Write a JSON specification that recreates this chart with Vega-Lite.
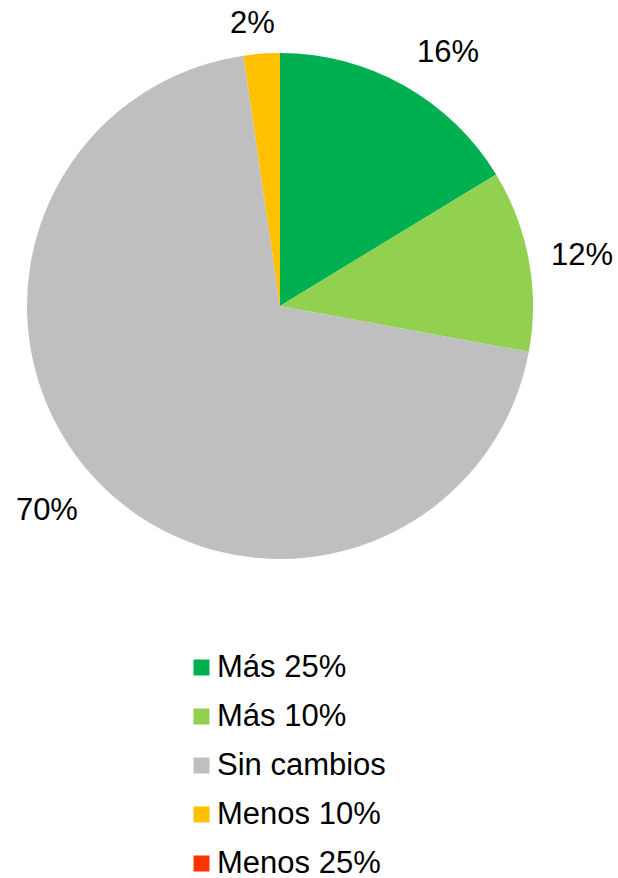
{
  "$schema": "https://vega.github.io/schema/vega-lite/v6.json",
  "width": 560,
  "height": 560,
  "autosize": "none",
  "padding": {"left": 0, "top": 26, "right": 58, "bottom": 292},
  "background": "white",
  "config": {"view": {"stroke": null}, "font": "Liberation Sans"},
  "data": {"values": [
    {"idx": 1, "cat": "Más 25%", "value": 0.163},
    {"idx": 2, "cat": "Más 10%", "value": 0.116},
    {"idx": 3, "cat": "Sin cambios", "value": 0.698},
    {"idx": 4, "cat": "Menos 10%", "value": 0.023},
    {"idx": 5, "cat": "Menos 25%", "value": 0.0}
  ]},
  "encoding": {
    "theta": {"field": "value", "type": "quantitative", "stack": true},
    "order": {"field": "idx", "type": "quantitative"}
  },
  "layer": [
    {
      "mark": {"type": "arc", "outerRadius": 253},
      "encoding": {
        "color": {
          "field": "cat", "type": "nominal",
          "sort": ["Más 25%", "Más 10%", "Sin cambios", "Menos 10%", "Menos 25%"],
          "scale": {
            "domain": ["Más 25%", "Más 10%", "Sin cambios", "Menos 10%", "Menos 25%"],
            "range": ["#00B050", "#92D050", "#BFBFBF", "#FFC000", "#FF3300"]
          },
          "legend": {
            "title": null,
            "orient": "none",
            "legendX": 186,
            "legendY": 626,
            "padding": 0,
            "symbolType": "square",
            "symbolSize": 256,
            "symbolStrokeWidth": 0,
            "symbolOpacity": 1,
            "labelFont": "Liberation Sans",
            "labelFontSize": 31,
            "labelColor": "black",
            "labelOffset": 0,
            "labelLimit": 300,
            "rowPadding": 17
          }
        }
      }
    },
    {
      "mark": {"type": "text", "radius": 300, "fontSize": 31, "font": "Liberation Sans", "color": "black", "dx": 21, "dy": 9},
      "encoding": {
        "text": {"condition": {"test": "datum.cat == 'Más 25%'", "field": "value", "type": "quantitative", "format": ".0%"}, "value": ""}
      }
    },
    {
      "mark": {"type": "text", "radius": 300, "fontSize": 31, "font": "Liberation Sans", "color": "black", "dx": 7, "dy": 4},
      "encoding": {
        "text": {"condition": {"test": "datum.cat == 'Más 10%'", "field": "value", "type": "quantitative", "format": ".0%"}, "value": ""}
      }
    },
    {
      "mark": {"type": "text", "radius": 300, "fontSize": 31, "font": "Liberation Sans", "color": "black", "dx": -17, "dy": -3},
      "encoding": {
        "text": {"condition": {"test": "datum.cat == 'Sin cambios'", "field": "value", "type": "quantitative", "format": ".0%"}, "value": ""}
      }
    },
    {
      "mark": {"type": "text", "radius": 300, "fontSize": 31, "font": "Liberation Sans", "color": "black", "dx": -6, "dy": 17},
      "encoding": {
        "text": {"condition": {"test": "datum.cat == 'Menos 10%'", "field": "value", "type": "quantitative", "format": ".0%"}, "value": ""}
      }
    }
  ]
}
